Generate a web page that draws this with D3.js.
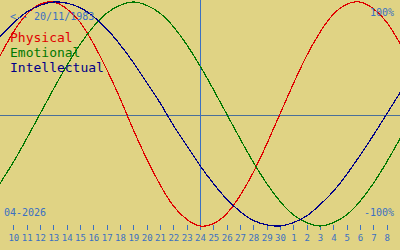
<!DOCTYPE html>
<html><head><meta charset="utf-8">
<script src="https://cdn.jsdelivr.net/npm/d3@7"></script>
<style>html,body{margin:0;padding:0;background:#e0d384;}svg{display:block;}</style>
</head><body>
<script>
// day index 0 = 9 April 2026 ... 30 = 9 May 2026
const dayLabels = ["9","10","11","12","13","14","15","16","17","18","19","20","21","22","23","24","25","26","27","28","29","30","1","2","3","4","5","6","7","8","9"];
const physical = [0.52,0.73,0.89,0.98,1.00,0.94,0.82,0.63,0.40,0.14,-0.14,-0.40,-0.63,-0.82,-0.94,-1.00,-0.98,-0.89,-0.73,-0.52,-0.27,0.00,0.27,0.52,0.73,0.89,0.98,1.00,0.94,0.82,0.63];
const emotional = [-0.62,-0.43,-0.22,0.00,0.22,0.43,0.62,0.78,0.90,0.97,1.00,0.97,0.90,0.78,0.62,0.43,0.22,0.00,-0.22,-0.43,-0.62,-0.78,-0.90,-0.97,-1.00,-0.97,-0.90,-0.78,-0.62,-0.43,-0.22];
const intellectual = [0.69,0.81,0.91,0.97,1.00,0.99,0.95,0.87,0.76,0.62,0.46,0.28,0.10,-0.10,-0.28,-0.46,-0.62,-0.76,-0.87,-0.95,-0.99,-1.00,-0.97,-0.91,-0.81,-0.69,-0.54,-0.37,-0.19,0.00,0.19];
const seriesNames = ["Physical","Emotional","Intellectual"];
const todayIndex = 15;
const birthLabel = "<-- 20/11/1983";
const monthLabel = "04-2026";
const maxLabel = "100%";
const minLabel = "-100%";

const W = 400, H = 250;
const textBlue = "#3b70c2";
const colors = ["#e00000","#007800","#000088"];
const font = "'DejaVu Sans Mono', 'Liberation Mono', monospace";

const svg = d3.select("body").append("svg").attr("width", W).attr("height", H);
svg.append("rect").attr("width", W).attr("height", H).attr("fill", "#e0d384");

const x = d3.scaleLinear().domain([0, dayLabels.length - 1]).range([0, W]);
const y = d3.scaleLinear().domain([-1, 1]).range([226, 2]);

// zero line
svg.append("line").attr("x1", 0).attr("x2", W)
  .attr("y1", Math.round(y(0)) + 1.5).attr("y2", Math.round(y(0)) + 1.5)
  .attr("stroke", "#4a6f9a").attr("stroke-width", 1).attr("shape-rendering", "crispEdges");
// today line
svg.append("line").attr("x1", Math.round(x(todayIndex)) + 0.5).attr("x2", Math.round(x(todayIndex)) + 0.5)
  .attr("y1", 0).attr("y2", 226)
  .attr("stroke", "#3b70c2").attr("stroke-width", 1).attr("shape-rendering", "crispEdges");

// axis ticks
const tickIdx = d3.range(1, dayLabels.length - 1);
const axis = d3.axisBottom(x).tickValues(tickIdx).tickFormat(i => dayLabels[i]).tickSize(5).tickPadding(2);
const g = svg.append("g").attr("transform", "translate(0,225)").call(axis);
g.select(".domain").remove();
g.selectAll(".tick line").attr("stroke", textBlue).attr("stroke-width", 1).attr("shape-rendering", "crispEdges");
g.selectAll(".tick text").attr("fill", textBlue).attr("font-family", font).attr("font-size", 9)
  .attr("dy", null).attr("y", 16);

// curves
const line = d3.line().x((d, i) => x(i)).y(d => y(d)).curve(d3.curveNatural);
[physical, emotional, intellectual].forEach((s, k) => {
  svg.append("path").attr("d", line(s)).attr("fill", "none")
    .attr("stroke", colors[k]).attr("stroke-width", 1.2).attr("shape-rendering", "crispEdges");
});

// texts
svg.append("text").attr("x", 10).attr("y", 20).text(birthLabel)
  .attr("fill", textBlue).attr("font-family", font).attr("font-size", 10);
svg.append("text").attr("x", 394).attr("y", 16).attr("text-anchor", "end").text(maxLabel)
  .attr("fill", textBlue).attr("font-family", font).attr("font-size", 10);
svg.append("text").attr("x", 394).attr("y", 216).attr("text-anchor", "end").text(minLabel)
  .attr("fill", textBlue).attr("font-family", font).attr("font-size", 10);
svg.append("text").attr("x", 4).attr("y", 216).text(monthLabel)
  .attr("fill", textBlue).attr("font-family", font).attr("font-size", 10);
seriesNames.forEach((n, k) => {
  svg.append("text").attr("x", 10).attr("y", 42 + k * 15).text(n)
    .attr("fill", colors[k]).attr("font-family", font).attr("font-size", 13);
});
</script>
</body></html>
